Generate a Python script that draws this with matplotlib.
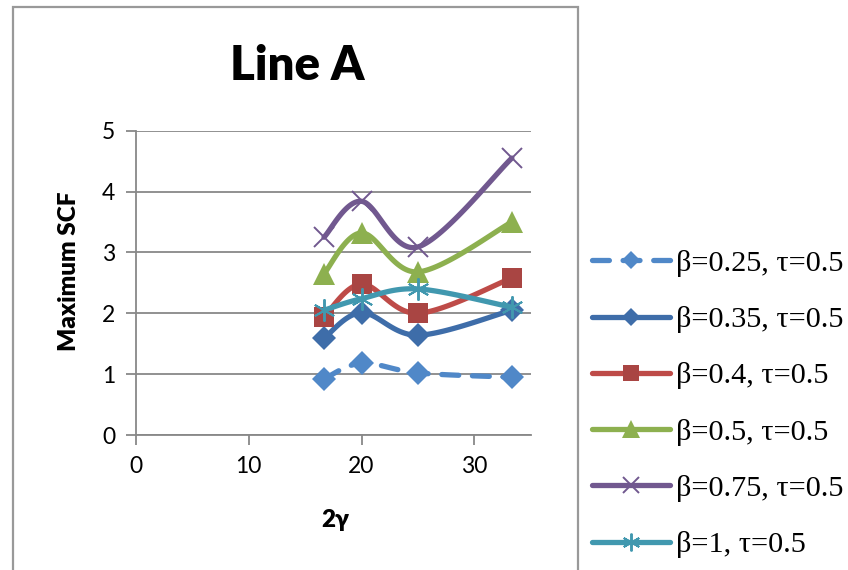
import numpy as np
import matplotlib
matplotlib.use("Agg")
import matplotlib.pyplot as plt
from matplotlib.lines import Line2D
from matplotlib.patches import Rectangle

# ---- data ----
x_vals = [16.67, 20, 25, 33.33]
beta_025 = [0.92, 1.18, 1.02, 0.95]
beta_035 = [1.59, 2.01, 1.64, 2.05]
beta_04 = [1.94, 2.48, 2.00, 2.58]
beta_05 = [2.65, 3.32, 2.68, 3.50]
beta_075 = [3.25, 3.84, 3.09, 4.55]
beta_1 = [2.05, 2.24, 2.40, 2.10]
labels = ["β=0.25, τ=0.5", "β=0.35, τ=0.5", "β=0.4, τ=0.5",
          "β=0.5, τ=0.5", "β=0.75, τ=0.5", "β=1, τ=0.5"]
x_ticks = [0, 10, 20, 30]
y_ticks = [0, 1, 2, 3, 4, 5]

W, H = 848, 570
fig = plt.figure(figsize=(W / 100, H / 100), dpi=100)
ax = fig.add_axes([136 / W, 1 - 435 / H, (530.7 - 136) / W, (435 - 130.7) / H])


def excel_smooth(x, y, n=40):
    pts = np.column_stack([x, y]).astype(float)
    ext = np.vstack([pts[0], pts, pts[-1]])
    out = []
    for i in range(len(pts) - 1):
        p0, p1, p2, p3 = ext[i], ext[i + 1], ext[i + 2], ext[i + 3]
        c1 = p1 + (p2 - p0) / 6
        c2 = p2 - (p3 - p1) / 6
        t = np.linspace(0, 1, n)[:, None]
        seg = (1 - t) ** 3 * p1 + 3 * (1 - t) ** 2 * t * c1 + 3 * (1 - t) * t ** 2 * c2 + t ** 3 * p2
        out.append(seg if i == 0 else seg[1:])
    s = np.vstack(out)
    return s[:, 0], s[:, 1]


lw = 3.8
series = [
    dict(y=beta_025, color="#5088C8", mfc="#5088C8", marker="D", ms=12, mew=0, ls=(0, (3.2, 2.6))),
    dict(y=beta_035, color="#3E6DA9", mfc="#3E6DA9", marker="D", ms=12, mew=0, ls="-"),
    dict(y=beta_04, color="#BE4B48", mfc="#A94543", marker="s", ms=14.5, mew=0, ls="-"),
    dict(y=beta_05, color="#8DB04F", mfc="#8DB04F", marker="^", ms=15.5, mew=0, ls="-"),
    dict(y=beta_075, color="#71588F", mfc="none", marker="x", ms=15, mew=1.4, ls="-"),
    dict(y=beta_1, color="#4198AF", mfc="none", marker=(6, 2, 0), ms=16, mew=1.4, ls="-"),
]

handles = []
for i, s in enumerate(series):
    sx, sy = excel_smooth(x_vals, s["y"])
    ax.plot(sx, sy, color=s["color"], lw=lw, ls=s["ls"], solid_capstyle="round",
            dash_capstyle="round", zorder=3 + i)
    mec = s["color"] if s["mfc"] == "none" else s["mfc"]
    ax.plot(x_vals, s["y"], ls="none", marker=s["marker"], ms=s["ms"], mfc=s["mfc"],
            mec=mec, mew=s["mew"], zorder=3 + i, clip_on=False)
    handles.append(Line2D([], [], color=s["color"], lw=lw, ls=s["ls"],
                          solid_capstyle="round", dash_capstyle="round",
                          marker=s["marker"], ms=s["ms"] * 0.8, mfc=s["mfc"], mec=mec,
                          mew=s["mew"]))

gray = "#888888"
ax.set_xlim(0, 35)
ax.set_ylim(0, 5)
ax.set_xticks(x_ticks)
ax.set_yticks(y_ticks)
ax.grid(axis="y", color=gray, lw=1.3)
ax.set_axisbelow(True)
for sp in ["top", "right"]:
    ax.spines[sp].set_visible(False)
for sp in ["left", "bottom"]:
    ax.spines[sp].set_color(gray)
    ax.spines[sp].set_linewidth(1.3)
ax.tick_params(direction="out", length=7, width=1.3, color=gray,
               labelsize=16.5, pad=8)
for lab in ax.get_xticklabels() + ax.get_yticklabels():
    lab.set_fontfamily("Lato")

fig.text(297 / W, 1 - 80 / H, "Line A", ha="center", va="baseline",
         fontsize=34, fontweight="heavy", family="Lato")
fig.text(69 / W, 1 - 271.5 / H, "Maximum SCF", ha="center", va="center",
         rotation=90, fontsize=17.5, fontweight="heavy", family="Lato")
fig.text(335 / W, 1 - 520 / H, "2γ", ha="center", va="center",
         fontsize=17.5, fontweight="heavy", family="Lato")

leg = fig.legend(handles=handles, labels=labels, loc="center left",
                 bbox_to_anchor=(591.7 / W, 1 - 404 / H), frameon=False,
                 prop={"family": "Liberation Serif", "size": 21.8},
                 handlelength=2.6, handletextpad=0.2, labelspacing=0.96,
                 borderpad=0, borderaxespad=0)

fig.patches.append(Rectangle((12.5 / W, -0.1), (577.7 - 12.5) / W, 1.1 - 7.5 / H,
                             transform=fig.transFigure, fill=False,
                             edgecolor="#999999", lw=1.6))

fig.savefig("out.png", dpi=100)
